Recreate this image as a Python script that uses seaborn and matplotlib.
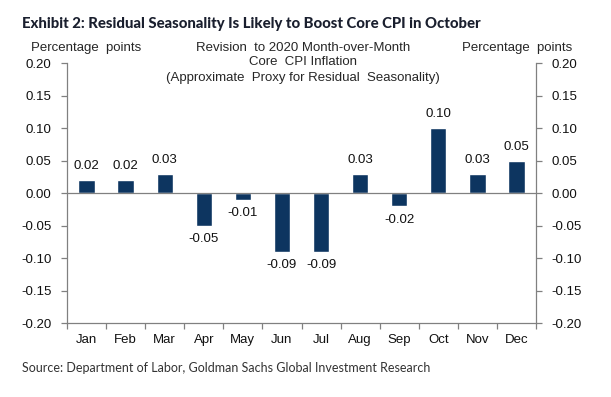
import matplotlib
matplotlib.use("Agg")
import matplotlib.pyplot as plt
import seaborn as sns
import pandas as pd
import numpy as np

months = ["Jan", "Feb", "Mar", "Apr", "May", "Jun", "Jul", "Aug", "Sep", "Oct", "Nov", "Dec"]
revision = [0.02, 0.02, 0.03, -0.05, -0.01, -0.09, -0.09, 0.03, -0.02, 0.10, 0.03, 0.05]
yticks = [-0.20, -0.15, -0.10, -0.05, 0.00, 0.05, 0.10, 0.15, 0.20]

BAR = "#0d3560"
AXC = "#808080"
W, H = 611, 397

sns.set_theme(style="white")
plt.rcParams["font.family"] = ["Liberation Sans", "DejaVu Sans"]

df = pd.DataFrame({"month": months, "value": revision})

fig = plt.figure(figsize=(W / 100, H / 100), dpi=100)
ax = fig.add_axes([67 / W, 1 - 323 / H, (536 - 67) / W, (323 - 63) / H])

sns.barplot(data=df, x="month", y="value", color=BAR, width=0.42, saturation=1, ax=ax)

ax.set_xlim(-0.5, len(months) - 0.5)
ax.set_ylim(-0.2, 0.2)
ax.set_yticks(yticks)
ax.set_yticklabels([f"{t:.2f}" for t in yticks], fontsize=9.5, color="#111111")
ax.set_xlabel("")
ax.set_ylabel("")
ax.axhline(0, color=AXC, lw=0.9, zorder=1)

ax.spines["top"].set_visible(False)
for s in ["left", "right", "bottom"]:
    ax.spines[s].set_visible(True)
    ax.spines[s].set_color(AXC)
    ax.spines[s].set_linewidth(0.9)

ax.tick_params(axis="y", left=True, right=True, labelleft=True, labelright=True,
               direction="out", length=4, color=AXC, width=0.9, pad=7)
ax.tick_params(axis="x", bottom=False, labelsize=9.5, labelcolor="#111111", pad=2)
# category boundary ticks on the bottom axis
ax.set_xticks(np.arange(-0.5, len(months) + 0.5, 1), minor=True)
ax.tick_params(axis="x", which="minor", bottom=True, direction="out", length=4,
               color=AXC, width=0.9)

for i, v in enumerate(revision):
    off = 0.012 if v >= 0 else -0.012
    ax.text(i, v + off, f"{v:.2f}", ha="center", va="bottom" if v >= 0 else "top",
            fontsize=9.5, color="#111111")


def fit_text(x, y, s, width_px, **kw):
    t = fig.text(x, y, s, **kw)
    r = fig.canvas.get_renderer()
    w = t.get_window_extent(r).width
    t.set_fontsize(t.get_fontsize() * width_px / w)
    return t


fit_text(22 / W, 1 - 24 / H, "Exhibit 2: Residual Seasonality Is Likely to Boost Core CPI in October",
         460, fontsize=12, fontweight="black", color="#1a1f2e",
         family=["Lato", "DejaVu Sans"], va="center")
fig.text(86 / W, 1 - 48 / H, "Percentage  points", fontsize=9.5, ha="center", va="center")
fig.text(517 / W, 1 - 48 / H, "Percentage  points", fontsize=9.5, ha="center", va="center")
fig.text(303 / W, 1 - 48 / H, "Revision  to 2020 Month-over-Month", fontsize=9.5, ha="center", va="center")
fig.text(303 / W, 1 - 62 / H, "Core  CPI Inflation", fontsize=9.5, ha="center", va="center")
fig.text(303 / W, 1 - 78 / H, "(Approximate  Proxy for Residual  Seasonality)", fontsize=9.5,
         ha="center", va="center")
fit_text(22 / W, 1 - 368 / H, "Source: Department of Labor, Goldman Sachs Global Investment Research",
         410, fontsize=9.5, color="#333333", family=["Lato", "DejaVu Sans"], va="center")

fig.savefig("out.png", dpi=100)
